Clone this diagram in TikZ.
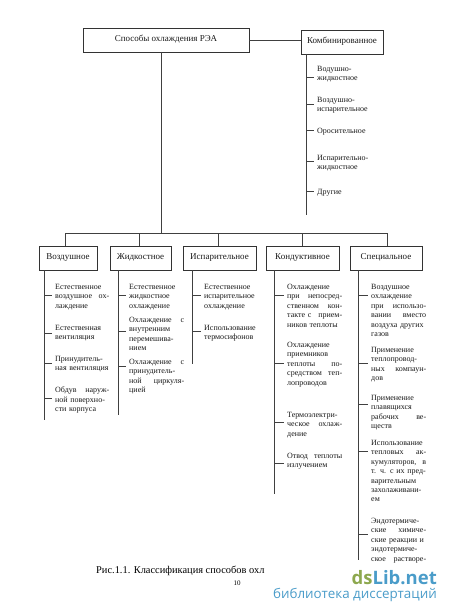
\documentclass[tikz,border=0pt]{standalone}
\usepackage{fontspec}
\usepackage{xcolor}
\usepackage{tikz}
\usetikzlibrary{positioning}
\setmainfont{Liberation Serif}
\newfontfamily\markfont{Open Sans}
\definecolor{markgreen}{HTML}{8DA84E}
\definecolor{markblue}{HTML}{4A9CC9}

\begin{document}
\begin{tikzpicture}[x=1pt, y=-1pt,
  box/.style={rectangle, draw=black!80, line width=0.7pt, minimum height=24pt,
              inner sep=0pt, outer sep=0pt, font=\fontsize{9}{10}\selectfont,
              text height=5.5pt, text depth=3pt, text=black!90},
  item/.style={anchor=north west, inner ysep=0pt, inner xsep=3pt, xshift=-3pt, yshift=-1.5pt,
               text width=55pt, align=left,
               font=\fontsize{8}{9.4}\selectfont, text=black!90},
  wire/.style={draw=black!75, line width=0.7pt}]

  \useasboundingbox (0,0) rectangle (450,615);

  % Top boxes
  \node[box, minimum width=166pt] (title) at (166,40) {Способы охлаждения РЭА};
  \node[box, minimum width=82pt, right=52pt of title, yshift=-2pt] (komb) {Комбинированное};

  % Method boxes
  \node[box, minimum width=58pt] (vozd) at (68,258) {Воздушное};
  \node[box, minimum width=61pt, right=13pt of vozd] (zhid) {Жидкостное};
  \node[box, minimum width=73pt, right=12pt of zhid] (ispar) {Испарительное};
  \node[box, minimum width=73pt, right=10pt of ispar] (kond) {Кондуктивное};
  \node[box, minimum width=72pt, right=11pt of kond] (spec) {Специальное};

  % Bus
  \coordinate (bus) at (161,233);
  \coordinate (dVozd) at (65,233);
  \coordinate (dZhid) at (139,233);
  \coordinate (dIspar) at (218,233);
  \coordinate (dKond) at (302,233);
  \coordinate (dSpec) at (387,233);

  \draw[wire] (title.south -| bus) -- (bus);
  \draw[wire] (dVozd) -- (dSpec);
  \draw[wire] (dVozd) -- (dVozd |- vozd.north);
  \draw[wire] (dZhid) -- (dZhid |- zhid.north);
  \draw[wire] (dIspar) -- (dIspar |- ispar.north);
  \draw[wire] (dKond) -- (dKond |- kond.north);
  \draw[wire] (dSpec) -- (dSpec |- spec.north);
  \draw[wire] (title) -- (komb.west |- title);

  % Combined items
  \node[item, text width=64pt] (k1) at (317,64.5) {Водушно-\\жидкостное};
  \node[item, text width=64pt] (k2) at (317,95.5) {Воздушно-\\испарительное};
  \node[item, text width=64pt] (k3) at (317,126.5) {Оросительное};
  \node[item, text width=64pt] (k4) at (317,153.5) {Испарительно-\\жидкостное};
  \node[item, text width=64pt] (k5) at (317,187.5) {Другие};

  \coordinate (tKomb) at (306,215);
  \draw[wire] (tKomb |- komb.south) -- (tKomb);
  \draw[wire] (tKomb |- 0,77) -- (k1.west |- 0,77);
  \draw[wire] (tKomb |- 0,104) -- (k2.west |- 0,104);
  \draw[wire] (tKomb |- 0,130) -- (k3.west |- 0,130);
  \draw[wire] (tKomb |- 0,161) -- (k4.west |- 0,161);
  \draw[wire] (tKomb |- 0,191) -- (k5.west |- 0,191);

  % Air
  \node[item, text width=54pt] (v1) at (55,282.5) {Естественное\\воздушное\hfill ох-\\лаждение};
  \node[item, text width=54pt] (v2) at (55,323.5) {Естественная\\вентиляция};
  \node[item, text width=54pt] (v3) at (55,354.5) {Принудитель-\\ная вентиляция};
  \node[item, text width=54pt] (v4) at (55,385.5) {Обдув\hfill наруж-\\ной поверхно-\\сти корпуса};

  \coordinate (tVozd) at (44,420);
  \draw[wire] (tVozd |- vozd.south) -- (tVozd);
  \draw[wire] (tVozd |- 0,295) -- (v1.west |- 0,295);
  \draw[wire] (tVozd |- 0,333) -- (v2.west |- 0,333);
  \draw[wire] (tVozd |- 0,363) -- (v3.west |- 0,363);
  \draw[wire] (tVozd |- 0,398) -- (v4.west |- 0,398);

  % Liquid
  \node[item] (z1) at (129,282.5) {Естественное\\жидкостное\\охлаждение};
  \node[item] (z2) at (129,315.5) {Охлаждение\hfill с\\внутренним\\перемешива-\\нием};
  \node[item] (z3) at (129,357.5) {Охлаждение\hfill с\\принудитель-\\ной\hfill циркуля-\\цией};

  \coordinate (tZhid) at (118,415);
  \draw[wire] (tZhid |- zhid.south) -- (tZhid);
  \draw[wire] (tZhid |- 0,295) -- (z1.west |- 0,295);
  \draw[wire] (tZhid |- 0,331) -- (z2.west |- 0,331);
  \draw[wire] (tZhid |- 0,366) -- (z3.west |- 0,366);

  % Evaporative
  \node[item] (i1) at (204,282.5) {Естественное\\испарительное\\охлаждение};
  \node[item] (i2) at (204,323.5) {Использование\\термосифонов};

  \coordinate (tIspar) at (192,364);
  \draw[wire] (tIspar |- ispar.south) -- (tIspar);
  \draw[wire] (tIspar |- 0,295) -- (i1.west |- 0,295);
  \draw[wire] (tIspar |- 0,331) -- (i2.west |- 0,331);

  % Conductive
  \node[item] (c1) at (287,282.5) {Охлаждение\\при\hfill непосред-\\ственном\hfill кон-\\такте с\hfill прием-\\ников теплоты};
  \node[item] (c2) at (287,340.5) {Охлаждение\\приемников\\теплоты\hfill по-\\средством\hfill теп-\\лопроводов};
  \node[item] (c3) at (287,410.5) {Термоэлектри-\\ческое\hfill охлаж-\\дение};
  \node[item] (c4) at (287,451.5) {Отвод\hfill теплоты\\излучением};

  \coordinate (tKond) at (274,494);
  \draw[wire] (tKond |- kond.south) -- (tKond);
  \draw[wire] (tKond |- 0,295) -- (c1.west |- 0,295);
  \draw[wire] (tKond |- 0,363) -- (c2.west |- 0,363);
  \draw[wire] (tKond |- 0,422) -- (c3.west |- 0,422);
  \draw[wire] (tKond |- 0,463) -- (c4.west |- 0,463);

  % Special
  \node[item] (s1) at (371,282.5) {Воздушное\\охлаждение\\при\hfill использо-\\вании\hfill вместо\\воздуха других\\газов};
  \node[item] (s2) at (371,345.5) {Применение\\теплопровод-\\ных\hfill компаун-\\дов};
  \node[item] (s3) at (371,393.5) {Применение\\плавящихся\\рабочих\hfill ве-\\ществ};
  \node[item] (s4) at (371,438.5) {Использование\\тепловых\hfill ак-\\кумуляторов,\hfill в\\т. ч. с их пред-\\варительным\\захолаживани-\\ем};
  \node[item] (s5) at (371,516.5) {Эндотермиче-\\ские\hfill химиче-\\ские реакции и\\эндотермиче-\\ское\hfill растворе-};

  \coordinate (tSpec) at (358,560);
  \draw[wire] (tSpec |- spec.south) -- (tSpec);
  \draw[wire] (tSpec |- 0,295) -- (s1.west |- 0,295);
  \draw[wire] (tSpec |- 0,363) -- (s2.west |- 0,363);
  \draw[wire] (tSpec |- 0,404) -- (s3.west |- 0,404);
  \draw[wire] (tSpec |- 0,451) -- (s4.west |- 0,451);
  \draw[wire] (tSpec |- 0,534) -- (s5.west |- 0,534);

  % Caption and page number
  \node[anchor=west, inner sep=0pt, font=\fontsize{10.4}{12}\selectfont] (caption) at (96,571) {Рис.1.1. Классификация способов охл};
  \node[inner sep=0pt, font=\fontsize{7}{8}\selectfont] (pagenum) at (237,583) {10};

  % Site mark
  \node[anchor=east, inner sep=0pt, font=\markfont\bfseries\fontsize{18.5}{22}\selectfont] (mark) at (437,578)
    {\textcolor{markgreen}{ds}\textcolor{markblue}{Lib.net}};
  \node[anchor=east, inner sep=0pt, text=markblue, font=\markfont\fontsize{13.4}{16}\selectfont] (marksub) at (437,595)
    {библиотека диссертаций};
\end{tikzpicture}
\end{document}
